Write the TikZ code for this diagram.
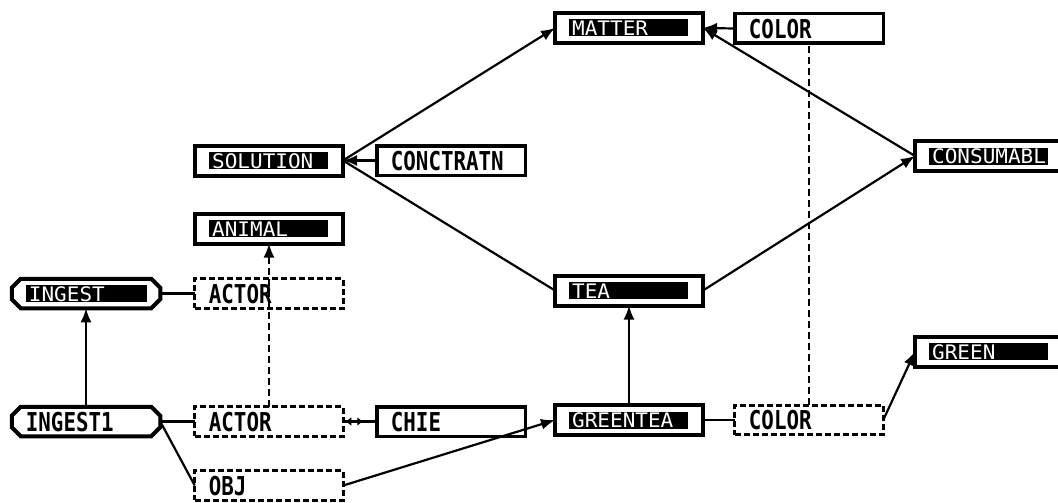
\documentclass[tikz,border=0pt]{standalone}
\usepackage{fontspec}
\usetikzlibrary{arrows.meta,calc}
\newfontfamily\plainfont[FakeStretch=0.8]{DejaVu Sans Mono}
\newfontfamily\barfont[FakeStretch=1.05]{DejaVu Sans Mono}

\tikzset{
  box/.style={rectangle, draw, line width=3.5pt, minimum width=148.5pt,
    minimum height=29.5pt, inner sep=0pt, outer sep=0pt},
  barbox/.style={box, line width=4pt, minimum width=148pt, minimum height=30pt},
  dashbox/.style={box, line width=3pt, dash pattern=on 6pt off 3pt},
  endbox/.style={box, draw=none},
  boxlabel/.style={anchor=west, inner sep=0pt,
    font=\plainfont\bfseries\fontsize{26}{26}\selectfont},
  barlabel/.style={anchor=west, inner sep=0pt, text=white,
    font=\barfont\fontsize{20}{20}\selectfont},
  link/.style={line width=2.2pt},
  tip/.style={-{Latex[length=14pt,width=11pt]}},
  arr/.style={link, tip},
  dlink/.style={link, dash pattern=on 7pt off 4pt},
}

% concept box with a black bar carrying white text
\newcommand\barconcept[4]{%
  \node[barbox] (#1) at (#2,#3) {};
  \fill ($(#1.north west)+(14,6.5)$) rectangle ($(#1.south east)+(-15,-6.5)$);
  \node[barlabel] (#1-t) at ($(#1.west)+(17,0.5)$) {#4};
}
% plain concept box
\newcommand\plainconcept[5][box]{%
  \node[#1] (#2) at (#3,#4) {};
  \node[boxlabel] (#2-t) at ($(#2.west)+(14,0.5)$) {#5};
}
% octagonal outline around a relation node
\newcommand\octagon[1]{%
  \draw[line width=4pt]
    ($(#1.north west)+(0,9)$) -- ($(#1.north west)+(9,0)$)
    -- ($(#1.north east)+(-9,0)$) -- ($(#1.north east)+(0,9)$)
    -- ($(#1.south east)+(0,-9)$) -- ($(#1.south east)+(-9,0)$)
    -- ($(#1.south west)+(9,0)$) -- ($(#1.south west)+(0,-9)$) -- cycle;
}

\begin{document}
\begin{tikzpicture}[x=1pt,y=-1pt]
\useasboundingbox (0,0) rectangle (1058,503);

% type concepts
\barconcept{matter}{629}{28}{MATTER}
\plainconcept{color1}{809}{28.5}{COLOR}
\barconcept{solution}{269}{160.5}{SOLUTION}
\plainconcept{conc}{451}{160.5}{CONCTRATN}
\barconcept{consum}{989}{156}{CONSUMABL}
\barconcept{animal}{269}{228.5}{ANIMAL}
\barconcept{tea}{629}{290.5}{TEA}
\barconcept{green}{989}{351.5}{GREEN}

% relation nodes
\node[endbox] (ingest) at (86,293.5) {};
\octagon{ingest}
\fill ($(ingest.north west)+(14,6.5)$) rectangle ($(ingest.south east)+(-13,-6.5)$);
\node[barlabel] at ($(ingest.west)+(17,0.5)$) {INGEST};
\node[endbox] (ingest1) at (86,421.5) {};
\octagon{ingest1}
\node[boxlabel] at ($(ingest1.west)+(14,0.5)$) {INGEST1};

% case roles and the rest of the graph
\plainconcept[dashbox]{actor1}{269}{293.5}{ACTOR}
\plainconcept[dashbox]{actor2}{269}{421.5}{ACTOR}
\plainconcept{chie}{451}{421.5}{CHIE}
\barconcept{greentea}{629}{420}{GREENTEA}
\plainconcept[dashbox]{color2}{809}{420}{COLOR}
\plainconcept[dashbox]{obj}{269}{485.5}{OBJ}

% connectors
\draw[arr] (solution.east) -- (matter.west);
\draw[link] (tea.west) -- (solution.east);
\draw[arr] (conc.west) -- (solution.east);
\draw[arr] (tea.east) -- (consum.west);
\draw[arr] (consum.west) -- (matter.east);
\draw[arr] (color1.west) -- (matter.east);
\draw[arr] (greentea.north) -- (tea.south);
\draw[link] (greentea.east) -- (color2.west);
\draw[arr] (color2.east) -- (green.west);
\draw[dlink] (color2.north) -- (color1.south);
\draw[dlink, tip] (actor2.north) -- (animal.south);
\draw[link] (actor1.west) -- (ingest.east);
\draw[arr] (ingest1.north) -- (ingest.south);
\draw[link] (ingest1.east) -- (actor2.west);
\draw[link] (ingest1.east) -- (obj.west);
\draw[arr] (obj.east) -- (greentea.west);
\draw[link] (actor2.east) -- (chie.west);
\draw[line width=2pt, {Latex[length=6pt,width=9pt]}-{Latex[length=6pt,width=9pt]}]
  ([xshift=2pt]actor2.east) -- ([xshift=20pt]actor2.east);
\end{tikzpicture}
\end{document}
